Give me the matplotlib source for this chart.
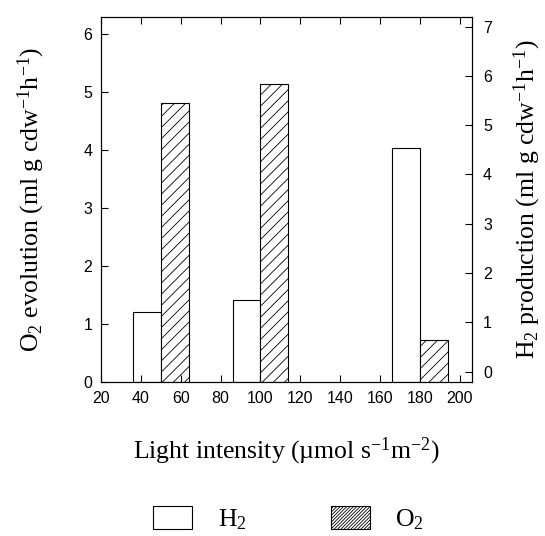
"""
Light intensity vs H2 production / O2 evolution bar chart
"""

import matplotlib
matplotlib.use('Agg')
import matplotlib.pyplot as plt
from matplotlib.patches import Patch

# data (left-axis units)
light = [50, 100, 180]
h2_vals = [1.21, 1.42, 4.03]
o2_vals = [4.81, 5.14, 0.72]

bar_w = 14
xticks = list(range(20, 201, 20))
left_ticks = [0, 1, 2, 3, 4, 5, 6]
right_ticks = [0, 1, 2, 3, 4, 5, 6, 7]

plt.rcParams['font.family'] = 'Liberation Sans'
plt.rcParams['mathtext.default'] = 'regular'
plt.rcParams['hatch.linewidth'] = 0.6

serif = 'Liberation Serif'
label_size = 18.5

fig = plt.figure(figsize=(5.45, 5.36), dpi=100)
ax = fig.add_axes([0.185, 0.287, 0.681, 0.681])

h2_x = [v - bar_w / 2 for v in light]
o2_x = [v + bar_w / 2 for v in light]
ax.bar(h2_x, h2_vals, width=bar_w, color='white', edgecolor='black', linewidth=0.8)
ax.bar(o2_x, o2_vals, width=bar_w, color='white', edgecolor='black', linewidth=0.8,
       hatch='///')

ax.set_xlim(20, 206)
ax.set_ylim(0, 6.29)
ax.set_xticks(xticks)
ax.set_yticks(left_ticks)
ax.tick_params(axis='both', direction='in', length=5, width=0.8, labelsize=11.5, pad=6)
ax.tick_params(axis='x', top=True)
for s in ax.spines.values():
    s.set_linewidth(0.8)

# right axis for H2
ax2 = ax.twinx()
ax2.set_ylim(-0.215, 7.19)
ax2.set_yticks(right_ticks)
ax2.tick_params(axis='y', direction='in', length=5, width=0.8, labelsize=11.5, pad=8)

ax.set_xlabel('Light intensity (\u00b5mol s$^{-1}$m$^{-2}$)', fontsize=label_size,
              family=serif, labelpad=22)
ax.set_ylabel('O$_2$ evolution (ml g cdw$^{-1}$h$^{-1}$)', fontsize=label_size,
              family=serif, labelpad=26)
ax2.set_ylabel('H$_2$ production (ml g cdw$^{-1}$h$^{-1}$)', fontsize=label_size,
               family=serif, rotation=90, labelpad=14)

handles = [
    Patch(facecolor='white', edgecolor='black', linewidth=0.8, label='H$_2$'),
    Patch(facecolor='white', edgecolor='black', linewidth=0.8, hatch='//////////',
          label='O$_2$'),
]
fig.legend(handles=handles, loc='center', bbox_to_anchor=(0.53, 0.032), ncol=2,
           frameon=False, handlelength=1.5, handleheight=1.0, handletextpad=1.0,
           columnspacing=3.3, prop={'family': serif, 'size': label_size})

plt.savefig('out.png', dpi=100)
plt.close()
